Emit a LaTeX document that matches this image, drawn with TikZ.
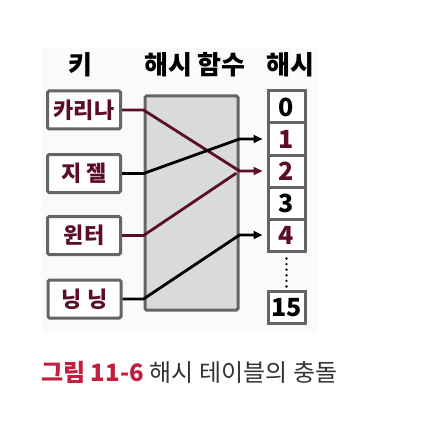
\documentclass[tikz,border=0pt]{standalone}
\usepackage{fontspec}
\newfontfamily\kr{Noto Sans CJK KR}
\usetikzlibrary{arrows.meta}
\definecolor{wine}{HTML}{5C0E24}
\definecolor{boxgray}{HTML}{656565}
\definecolor{fungray}{HTML}{D9DADC}
\definecolor{figred}{HTML}{C41E3F}
\tikzset{
  keybox/.style={draw=boxgray, line width=3pt, rounded corners=1.5pt, fill=white,
    minimum width=73pt, minimum height=38pt, inner sep=0pt,
    font=\kr\bfseries\fontsize{22}{22}\selectfont, text=wine},
  slot/.style={draw=boxgray, line width=3pt, fill=white, minimum width=37pt,
    minimum height=32pt, inner sep=0pt, font=\kr\bfseries\fontsize{25}{25}\selectfont},
  head/.style={font=\kr\bfseries\fontsize{26}{26}\selectfont},
  link/.style={line width=2.8pt, line join=round},
}
\begin{document}
\begin{tikzpicture}[x=1pt, y=-1pt, >={Triangle[length=9pt, width=8pt]}]
	\useasboundingbox (0,0) rectangle (422,422);
	\fill[black!2] (42,48) rectangle (317,333);
	% headings
	\node[head] (hkey) at (80,65) {키};
	\node[head] (hfun) at (195,65) {해시 함수};
	\node[head] (hhash) at (290,65) {해시};
	% keys
	\node[keybox] (karina) at (84,110) {카리나};
	\node[keybox] (giselle) at (84,173.5) {지 젤};
	\node[keybox] (winter) at (84,235.5) {윈터};
	\node[keybox] (ningning) at (84.5,299) {닝 닝};
	% hash function
	\node[draw=boxgray, line width=3pt, rounded corners=1.5pt, fill=fungray,
		minimum width=93pt, minimum height=214pt] (hf) at (191.5,203) {};
	% hash table
	\node[slot] (s0) at (286.5,107) {0};
	\node[slot, text=wine] (s1) at (286.5,139) {1};
	\node[slot, text=wine] (s2) at (286.5,171) {2};
	\node[slot] (s3) at (286.5,203) {3};
	\node[slot, text=wine] (s4) at (286.5,235) {4};
	\node[slot] (s15) at (286.5,307.5) {15};
	\draw[line width=2.6pt, line cap=round, dash pattern=on 0pt off 5.6pt] (s4.south) ++(0,6) coordinate (d0) -- ++(0,30) coordinate (d1);
	% collisions
	\draw[link, wine, ->, shorten >=4pt] (karina.east) -- (karina.east -| hf.west) -- (s2.west -| hf.east) -- (s2.west);
	\draw[link, ->, shorten >=4pt] (giselle.east) -- (giselle.east -| hf.west) -- (s1.west -| hf.east) -- (s1.west);
	\draw[link, wine, shorten >=4pt] (winter.east) -- (winter.east -| hf.west) -- (s2.west -| hf.east);
	\draw[link, ->, shorten >=4pt] (ningning.east) -- (ningning.east -| hf.west) -- (s4.west -| hf.east) -- (s4.west);
	% caption
	\node[anchor=west, inner sep=0pt, font=\kr\fontsize{24}{24}\selectfont, text=black!80] (cap) at (41,372)
		{\textcolor{figred}{\bfseries 그림 11-6}\hspace{6pt}해시 테이블의 충돌};
\end{tikzpicture}
\end{document}
